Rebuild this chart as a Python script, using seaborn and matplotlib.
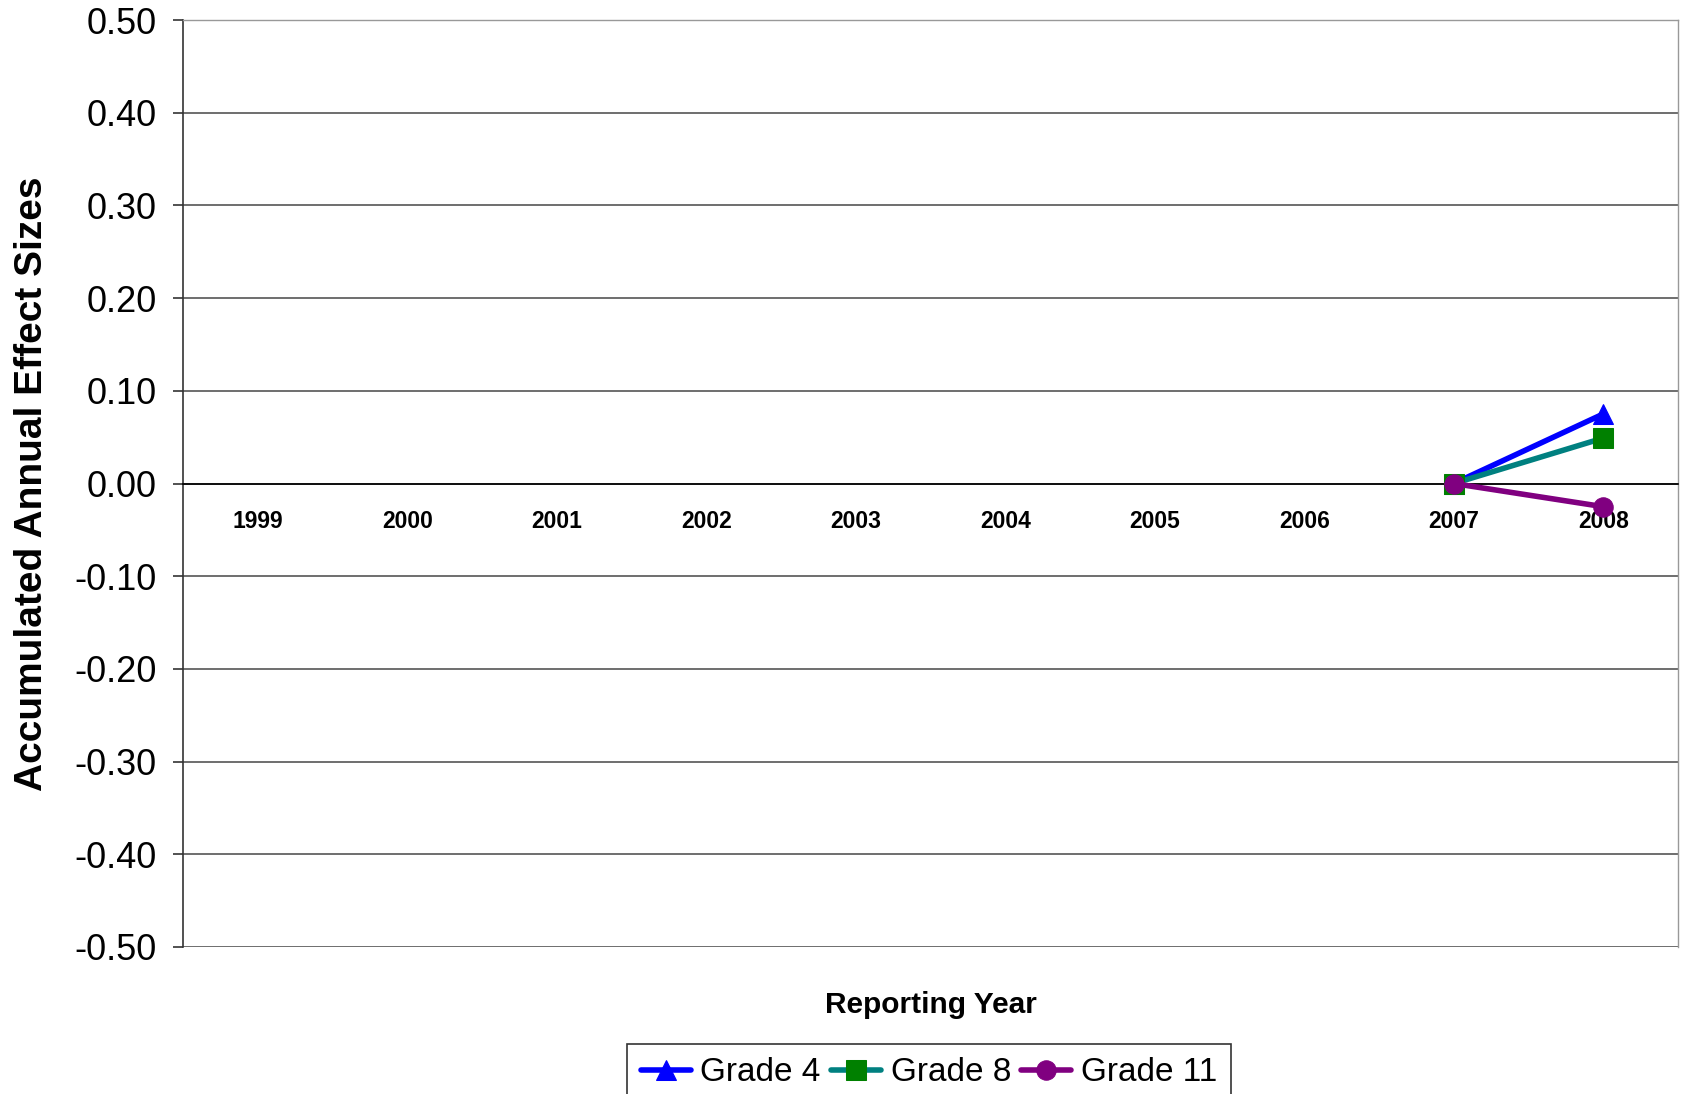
import numpy as np
import pandas as pd
import matplotlib
matplotlib.use("Agg")
import matplotlib.pyplot as plt
import seaborn as sns

YEARS = ["1999", "2000", "2001", "2002", "2003", "2004", "2005", "2006", "2007", "2008"]
GRADE_4 = [np.nan] * 8 + [0.0, 0.075]
GRADE_8 = [np.nan] * 8 + [0.0, 0.049]
GRADE_11 = [np.nan] * 8 + [0.0, -0.025]
SERIES = ["Grade 4", "Grade 8", "Grade 11"]
Y_TICKS = [-0.5, -0.4, -0.3, -0.2, -0.1, 0.0, 0.1, 0.2, 0.3, 0.4, 0.5]

LINE_COLORS = {"Grade 4": "#0000FF", "Grade 8": "#008080", "Grade 11": "#800080"}
MARKER_COLORS = {"Grade 4": "#0000FF", "Grade 8": "#008000", "Grade 11": "#800080"}
MARKERS = {"Grade 4": "^", "Grade 8": "s", "Grade 11": "o"}


def build_frame():
    rows = []
    for name, vals in zip(SERIES, [GRADE_4, GRADE_8, GRADE_11]):
        for i, (yr, v) in enumerate(zip(YEARS, vals)):
            rows.append({"pos": i, "year": yr, "series": name, "value": v})
    return pd.DataFrame(rows)


def main():
    sns.set_style("white")
    plt.rcParams["font.family"] = ["Liberation Sans", "DejaVu Sans"]
    plt.rcParams["text.color"] = "black"
    plt.rcParams["axes.labelcolor"] = "black"
    plt.rcParams["xtick.color"] = "black"
    plt.rcParams["ytick.color"] = "black"

    df = build_frame()
    fig = plt.figure(figsize=(16.84, 10.94), dpi=100)
    ax = fig.add_axes([183 / 1684, 1 - 947 / 1094, (1678 - 183) / 1684, (947 - 20) / 1094])

    for name in SERIES:
        sub = df[df["series"] == name].dropna()
        sns.lineplot(
            data=sub, x="pos", y="value", ax=ax,
            color=LINE_COLORS[name], linewidth=4,
            marker=MARKERS[name], markersize=14,
            markerfacecolor=MARKER_COLORS[name], markeredgecolor=MARKER_COLORS[name],
            label=name, zorder=3,
        )

    ax.set_xlim(-0.5, 9.5)
    ax.set_ylim(-0.5, 0.5)
    ax.set_yticks(Y_TICKS)
    ax.set_yticklabels([f"{v:.2f}" for v in Y_TICKS], fontsize=26)
    ax.yaxis.grid(True, color="#555555", linewidth=1.2)
    ax.tick_params(axis="y", direction="out", length=7, width=1.2, color="#333333", pad=12, left=True)

    # category axis crosses at zero, labels sit right under it
    ax.spines["bottom"].set_position(("data", 0))
    ax.spines["bottom"].set_color("#000000")
    ax.spines["bottom"].set_linewidth(1.2)
    ax.set_xticks(range(len(YEARS)))
    ax.set_xticklabels(YEARS, fontsize=16.5, fontweight="bold")
    ax.tick_params(axis="x", length=0, pad=19)

    ax.spines["left"].set_color("#333333")
    ax.spines["left"].set_linewidth(1.2)
    for s in ["top", "right"]:
        ax.spines[s].set_color("#999999")
        ax.spines[s].set_linewidth(1)

    ax.set_ylabel("Accumulated Annual Effect Sizes", fontsize=28, fontweight="bold", va="center")
    ax.yaxis.set_label_coords(-0.101, 0.5)
    ax.set_xlabel("Reporting Year", fontsize=21.5, fontweight="bold", va="center")
    ax.xaxis.set_label_coords(0.5, -0.063)

    ax.get_legend().remove()
    handles, labels = ax.get_legend_handles_labels()
    leg = fig.legend(
        handles, labels, loc="upper center", bbox_to_anchor=(929 / 1684, 1 - 1044 / 1094),
        ncol=3, fontsize=24, frameon=True, fancybox=False, handlelength=1.5,
        handletextpad=0.3, columnspacing=0.3, borderpad=0.4, borderaxespad=0,
    )
    leg.get_frame().set_edgecolor("#000000")
    leg.get_frame().set_linewidth(1.2)

    fig.savefig("out.png", dpi=100)


if __name__ == "__main__":
    main()
